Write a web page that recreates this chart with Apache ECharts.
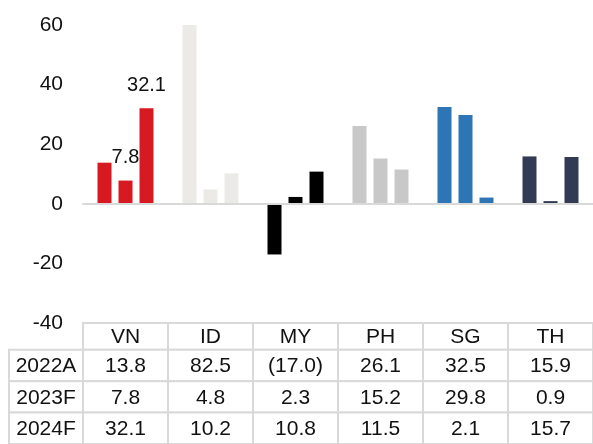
<!DOCTYPE html>
<html>
<head>
<meta charset="utf-8">
<script src="https://cdn.jsdelivr.net/npm/echarts@6/dist/echarts.min.js"></script>
<style>
  html, body { margin: 0; padding: 0; background: #fff; }
  #chart { width: 593px; height: 444px; }
</style>
</head>
<body>
<div id="chart"></div>
<script>
const countries = ['VN', 'ID', 'MY', 'PH', 'SG', 'TH']
const years = ['2022A', '2023F', '2024F']
const growth2022A = [13.8, 82.5, -17.0, 26.1, 32.5, 15.9]
const growth2023F = [7.8, 4.8, 2.3, 15.2, 29.8, 0.9]
const growth2024F = [32.1, 10.2, 10.8, 11.5, 2.1, 15.7]
const yTicks = [-40, -20, 0, 20, 40, 60]
const countryColors = ['#d71a21', '#ebeae6', '#000000', '#c8c8c8', '#2e75b6', '#333a54']
// bars that carry a value label: [yearIndex, countryIndex]
const labelled = [[1, 0], [2, 0]]

const rows = [growth2022A, growth2023F, growth2024F]
const font = 'Liberation Sans, Arial, sans-serif'
const textColor = '#111'
const borderColor = '#d9d9d9'

function fmt(v) {
  return v < 0 ? '(' + Math.abs(v).toFixed(1) + ')' : v.toFixed(1)
}

// table cells: header row, row headers, values
const cells = []
countries.forEach((c, i) => cells.push({ col: i, row: 0, text: c }))
years.forEach((y, r) => {
  cells.push({ col: -1, row: r + 1, text: y })
  rows[r].forEach((v, i) => cells.push({ col: i, row: r + 1, text: fmt(v) }))
})

// table layout (in table axis units)
const headColMin = -74 / 85
const rowEdges = [0, 0.85, 1.85, 2.85, 3.85]

const chart = echarts.init(document.getElementById('chart'))

const barSeries = years.map((y, r) => ({
  name: y,
  type: 'bar',
  xAxisIndex: 0,
  yAxisIndex: 0,
  barWidth: 14,
  barGap: '50%',
  data: rows[r].map((v, i) => ({
    value: v,
    itemStyle: { color: countryColors[i] },
    label: {
      show: labelled.some(([a, b]) => a === r && b === i),
      position: 'top',
      distance: 13,
      fontSize: 20,
      fontFamily: font,
      color: textColor
    }
  }))
}))

const tableSeries = {
  type: 'custom',
  xAxisIndex: 1,
  yAxisIndex: 1,
  silent: true,
  dimensions: ['col', 'row'],
  encode: { x: 0, y: 1 },
  data: cells.map((c) => [c.col, c.row]),
  renderItem: (params, api) => {
    const cell = cells[params.dataIndex]
    const x0 = cell.col < 0 ? headColMin : cell.col
    const x1 = cell.col < 0 ? 0 : cell.col + 1
    const p0 = api.coord([x0, rowEdges[cell.row]])
    const p1 = api.coord([x1, rowEdges[cell.row + 1]])
    return {
      type: 'group',
      children: [
        {
          type: 'rect',
          shape: { x: p0[0], y: p0[1], width: p1[0] - p0[0], height: p1[1] - p0[1] },
          style: { fill: '#fff', stroke: borderColor, lineWidth: 2 }
        },
        {
          type: 'text',
          x: (p0[0] + p1[0]) / 2,
          y: (p0[1] + p1[1]) / 2 + 1,
          style: {
            text: cell.text,
            textAlign: 'center',
            textVerticalAlign: 'middle',
            fontSize: 21,
            fontFamily: font,
            fill: textColor
          }
        }
      ]
    }
  }
}

const option = {
  animation: false,
  textStyle: { fontFamily: font },
  grid: [
    { left: 83, right: 0, top: 25, height: 298 },
    { left: 9, right: 0, top: 323, height: 127 }
  ],
  xAxis: [
    {
      type: 'category',
      gridIndex: 0,
      data: countries,
      z: 3,
      axisLine: { onZero: true, lineStyle: { color: borderColor, width: 2 } },
      axisTick: { show: false },
      axisLabel: { show: false }
    },
    { type: 'value', gridIndex: 1, min: headColMin, max: 6, show: false }
  ],
  yAxis: [
    {
      type: 'value',
      gridIndex: 0,
      min: yTicks[0],
      max: yTicks[yTicks.length - 1],
      interval: 20,
      axisLine: { show: false },
      axisTick: { show: false },
      splitLine: { show: false },
      axisLabel: { margin: 20, fontSize: 21, color: textColor, fontFamily: font }
    },
    { type: 'value', gridIndex: 1, min: 0, max: rowEdges[rowEdges.length - 1], inverse: true, show: false }
  ],
  series: [...barSeries, tableSeries]
}

chart.setOption(option)
</script>
</body>
</html>
